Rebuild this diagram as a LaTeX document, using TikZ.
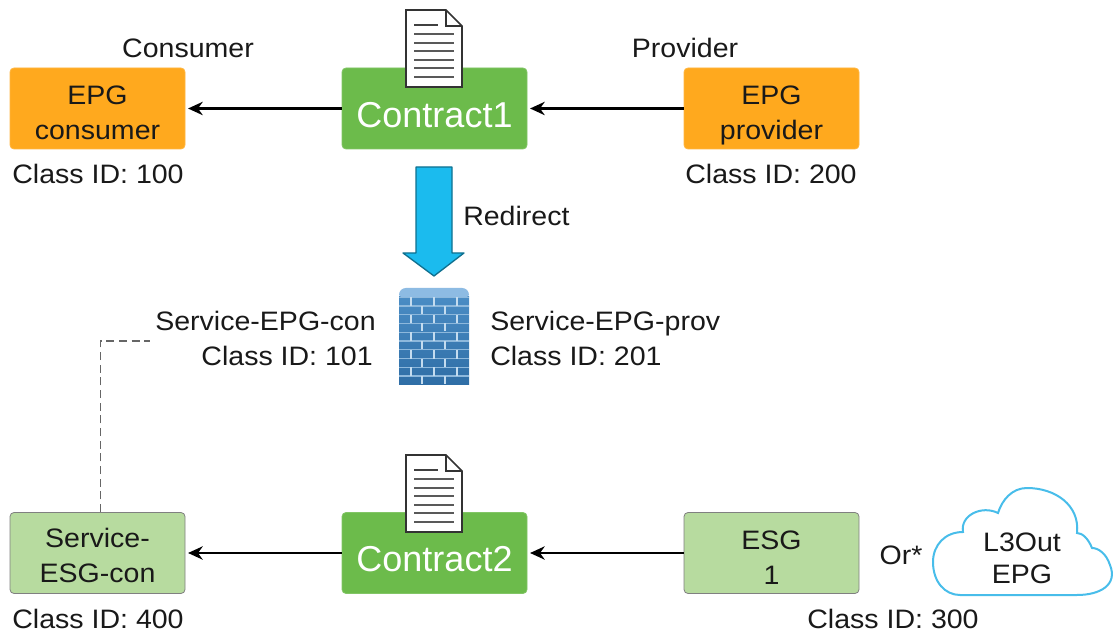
\documentclass[tikz,border=0pt]{standalone}
\usepackage{fontspec}
\setmainfont[FakeStretch=1.07]{Liberation Sans}
\newfontfamily\contractfont{Liberation Sans}
\usetikzlibrary{arrows.meta}
\definecolor{epgorange}{HTML}{FFA91E}
\definecolor{contractgreen}{HTML}{6CBB4B}
\definecolor{esggreen}{HTML}{B7DB9F}
\definecolor{redirectblue}{HTML}{1BBBEE}
\definecolor{cloudblue}{HTML}{48BDEA}
\definecolor{brickblue}{HTML}{4A8CC4}
\definecolor{brickdark}{HTML}{2F6EA6}
\definecolor{brickline}{HTML}{C4DCEF}
\definecolor{brickgap}{HTML}{8DB8DC}
\definecolor{capblue}{HTML}{8DBBE3}
\tikzset{
    label text/.style={font=\fontsize{20}{26.25}\selectfont, text=black!90, inner sep=0pt, align=center},
    epgbox/.style={label text, rounded corners=3, minimum width=175*0.75pt, minimum height=81*0.75pt, fill=#1, draw=#1!85!white, line width=0.6pt},
    contractbox/.style={rounded corners=3, minimum width=185*0.75pt, minimum height=81*0.75pt, fill=contractgreen, draw=contractgreen!85!white, line width=0.6pt, text=white, text height=27.8pt, text depth=0pt, inner sep=0pt, font=\contractfont\fontsize{27}{30}\selectfont},
    esgbox/.style={epgbox=esggreen, draw=black!50},
    flow/.style={-{Stealth[length=11pt,width=10pt]}, line width=1.7pt, shorten >=2pt},
    brick joint/.style={brickline, line width=0.8pt},
    brick gap/.style={brickgap, line width=0.9pt},
}

\NewDocumentCommand{\boxlines}{O{26pt}mm}{\rule{0pt}{#1}#2\\#3\rule[-6pt]{0pt}{6pt}}

\NewDocumentCommand{\docicon}{mm}{%
\begin{scope}[shift={(#1,#2)}]
\draw[fill=white, draw=black!80, line width=1.2pt] (0,0) -- (40,0) -- (56,16) -- (56,77) -- (0,77) -- cycle;
\draw[draw=black!80, line width=1.2pt] (40,0) -- (40,16) -- (56,16);
\draw[black!75, line width=1.2pt] (8,15) -- (32,15);
\foreach \y in {24,33,41,50,58,67} {\draw[black!65, line width=1.2pt] (8,\y) -- (48,\y);}
\end{scope}%
}

\begin{document}
\begin{tikzpicture}[x=0.75pt, y=-0.75pt]
    \useasboundingbox (0,0) rectangle (1120,634);

    % top row
    \node[epgbox=epgorange] (epgcon) at (97.5,108.5) {\boxlines{EPG}{consumer}};
    \node[contractbox] (contractone) at (434.5,108.5) {Contract1};
    \node[epgbox=epgorange] (epgprov) at (771.5,108.5) {\boxlines{EPG}{provider}};
    \draw[flow] (contractone) -- (epgcon);
    \draw[flow] (epgprov) -- (contractone);
    \docicon{406}{10}

    \node[label text] (consumer) at (188,48) {Consumer};
    \node[label text] (provider) at (685,48) {Provider};
    \node[label text] (idcon) at (98,174) {Class ID: 100};
    \node[label text] (idprov) at (771,174) {Class ID: 200};

    % redirect
    \draw[fill=redirectblue, draw=redirectblue!60!black, line width=1pt, line join=round] (416,167) -- (452,167) -- (452,253) -- (464,253) -- (434,276) -- (403,253) -- (416,253) -- cycle;
    \node[label text, anchor=west] (redirect) at (463,216) {Redirect};

    % firewall
    \fill[top color=brickblue, bottom color=brickdark] (399,297) rectangle (469,384);
    \fill[capblue, rounded corners=2] (399,297) -- (399,292) -- (403,288) -- (465,288) -- (469,292) -- (469,297) -- cycle;
    \foreach \y in {306,323.5,341,358.5,376} {
        \draw[brick gap] (399,\y) -- (469,\y);
        \draw[brick gap] (399,\y-8.7) -- (469,\y-8.7);
        \foreach \x in {411,434,457} {\draw[brick joint] (\x,\y-8.7) -- (\x,\y);}
        \foreach \x in {422,445} {\draw[brick joint] (\x,\y) -- (\x,\y+8);}
    }

    \node[label text, anchor=base east] (svccon) at (376,330.5) {Service-EPG-con};
    \node[label text, anchor=base east] (idsvccon) at (373,365.5) {Class ID: 101};
    \node[label text, anchor=base west] (svcprov) at (490,330.5) {Service-EPG-prov};
    \node[label text, anchor=base west] (idsvcprov) at (490,365.5) {Class ID: 201};

    % bottom row
    \node[esgbox] (esgcon) at (97.5,553) {\boxlines[24pt]{Service-}{ESG-con}};
    \node[contractbox] (contracttwo) at (434.5,553) {Contract2};
    \node[esgbox] (esgone) at (771.5,553) {\boxlines[27pt]{ESG}{1}};
    \draw[flow] (contracttwo) -- (esgcon);
    \draw[flow] (esgone) -- (contracttwo);
    \docicon{406}{455}

    \node[label text] (idesgcon) at (98,619) {Class ID: 400};
    \node[label text] (idesg) at (893,619) {Class ID: 300};
    \node[label text] (ortext) at (901,555) {Or*};

    % L3Out cloud
    \draw[cloudblue, line width=1.5pt, fill=white] (960,595) -- (1077,595)
        .. controls (1100,595) and (1118,585) .. (1110,565)
        .. controls (1106,553) and (1098,548) .. (1092,548)
        .. controls (1088,538) and (1082,533) .. (1077,533)
        .. controls (1080,505) and (1055,488) .. (1027,488)
        .. controls (1012,488) and (1002,500) .. (998,513)
        .. controls (982,505) and (960,515) .. (963,532)
        .. controls (945,532) and (933,545) .. (933,562)
        .. controls (933,582) and (945,595) .. (960,595) -- cycle;
    \node[label text] (cloudtext) at (1022,558.5) {L3Out\\[-2pt]EPG};

    % dashed link
    \coordinate (dashend) at (150,341);
    \draw[black!60, line width=0.9pt, dash pattern=on 6pt off 3.5pt] ([xshift=2pt]esgcon.north) |- (dashend);
\end{tikzpicture}
\end{document}
